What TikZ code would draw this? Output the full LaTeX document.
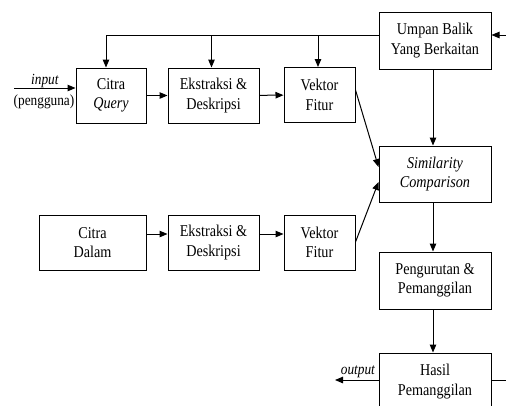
\documentclass[tikz,border=0pt]{standalone}
\usepackage{fontspec}
\setmainfont{Liberation Serif}
\usetikzlibrary{arrows.meta,calc}
\newcommand{\sq}[1]{\scalebox{0.86}[1]{#1}}
\begin{document}
\begin{tikzpicture}[x=1pt,y=-1pt,
  box/.style={draw,line width=1pt,inner sep=0pt,align=center,
    font=\fontsize{16.5}{19.5}\selectfont},
  conn/.style={line width=1pt,-{Triangle[length=8pt,width=6.5pt]}},
  plain/.style={line width=1pt},
  lbl/.style={font=\fontsize{15.5}{18}\selectfont,inner sep=0pt}]
\useasboundingbox (0,0) rectangle (506,405);
\clip (0,0) rectangle (506,405);
% boxes
\node[box,minimum width=112pt,minimum height=57pt] (UB) at (435,40.5) {\sq{Umpan Balik}\\\sq{Yang Berkaitan}};
\node[box,minimum width=70pt,minimum height=55pt] (CQ) at (111,95.5) {\sq{Citra}\\\sq{\textit{Query}}};
\node[box,minimum width=91pt,minimum height=55pt] (E1) at (213.5,95.5) {\sq{Ekstraksi \&}\\\sq{Deskripsi}};
\node[box,minimum width=71pt,minimum height=55pt] (V1) at (319.5,95) {\sq{Vektor}\\\sq{Fitur}};
\node[box,minimum width=112pt,minimum height=56pt] (SC) at (435,174) {\sq{\textit{Similarity}}\\\sq{\textit{Comparison}}};
\node[box,minimum width=107pt,minimum height=55pt] (CD) at (92.5,242.5) {\sq{Citra}\\\sq{Dalam}};
\node[box,minimum width=91pt,minimum height=55pt] (E2) at (213.5,242.5) {\sq{Ekstraksi \&}\\\sq{Deskripsi}};
\node[box,minimum width=71pt,minimum height=55pt] (V2) at (319.5,242.5) {\sq{Vektor}\\\sq{Fitur}};
\node[box,minimum width=112pt,minimum height=57pt] (PP) at (435,280.5) {\sq{Pengurutan \&}\\\sq{Pemanggilan}};
\node[box,minimum width=112pt,minimum height=57pt] (HP) at (435,381.5) {\sq{Hasil}\\\sq{Pemanggilan}};
% free ends and helper points
\coordinate (inS) at (14,88);
\coordinate (fbR) at (506,35);
\coordinate (outE) at (335,380);
\coordinate (hpR) at (506,380);
\coordinate (cqT) at ($(CQ.north)+(-5,0)$);
\coordinate (e1T) at ($(E1.north)+(-2,0)$);
\coordinate (v1T) at ($(V1.north)+(-1.5,0)$);
\coordinate (rowA) at (0,234);
\coordinate (v1o) at (0,90);
\coordinate (v2o) at (0,242);
\coordinate (scA) at (0,167);
\coordinate (scB) at (0,182);
\coordinate (colX) at (433,0);
% feedback bus
\draw[plain] (UB.west |- fbR) -- (cqT |- fbR);
\draw[conn] (cqT |- fbR) -- (cqT);
\draw[conn] (e1T |- fbR) -- (e1T);
\draw[conn] (v1T |- fbR) -- (v1T);
\draw[conn] (fbR) -- (UB.east |- fbR);
% input
\draw[conn] (inS) -- (CQ.west |- inS);
\node[lbl,anchor=base] (inL) at (45,84) {\sq{\textit{input}}};
\node[lbl,anchor=base] (usr) at (44,105) {\sq{(pengguna)}};
% chains
\draw[conn] (CQ) -- (E1);
\draw[conn] (E1) -- (V1);
\draw[conn] (CD.east |- rowA) -- (E2.west |- rowA);
\draw[conn] (E2.east |- rowA) -- (V2.west |- rowA);
\draw[conn] (V1.east |- v1o) -- (SC.west |- scA);
\draw[conn] (V2.east |- v2o) -- (SC.west |- scB);
% right column
\draw[conn] (UB.south -| colX) -- (SC.north -| colX);
\draw[conn] (SC.south -| colX) -- (PP.north -| colX);
\draw[conn] (PP.south -| colX) -- (HP.north -| colX);
% output
\draw[conn] (HP.west |- outE) -- (outE);
\node[lbl,anchor=base] (outL) at (358,374) {\sq{\textit{output}}};
\draw[plain] (HP.east |- hpR) -- (hpR);
\end{tikzpicture}
\end{document}
